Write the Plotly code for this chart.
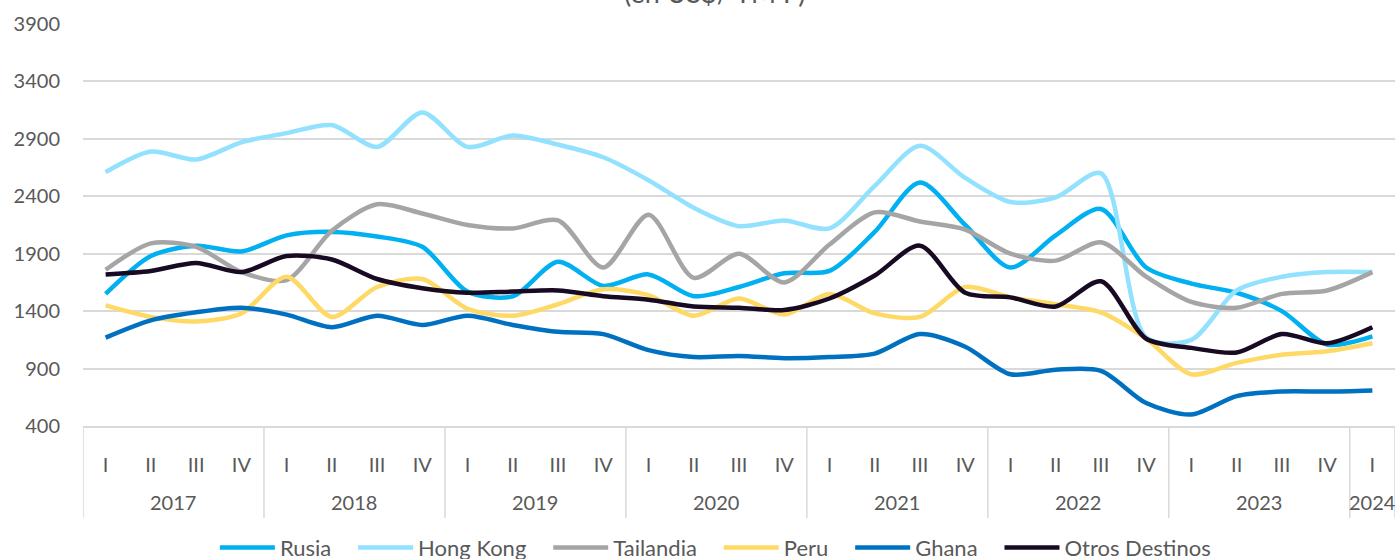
import plotly.graph_objects as go

years = ["2017"] * 4 + ["2018"] * 4 + ["2019"] * 4 + ["2020"] * 4 + ["2021"] * 4 + ["2022"] * 4 + ["2023"] * 4 + ["2024"]
quarters = ["I", "II", "III", "IV"] * 7 + ["I"]

rusia = [1550, 1880, 1970, 1920, 2060, 2090, 2050, 1960, 1570, 1530, 1830, 1620, 1720, 1530,
         1610, 1730, 1750, 2090, 2520, 2150, 1780, 2060, 2290, 1780, 1640, 1560, 1400, 1110, 1180]
hong_kong = [2610, 2790, 2720, 2870, 2950, 3020, 2830, 3130, 2830, 2930, 2850, 2740, 2540, 2300,
             2140, 2190, 2120, 2490, 2840, 2560, 2350, 2390, 2600, 1170, 1150, 1580, 1700, 1740, 1740]
tailandia = [1760, 1990, 1960, 1740, 1670, 2100, 2330, 2250, 2150, 2120, 2190, 1780, 2240, 1690,
             1900, 1650, 1980, 2260, 2180, 2110, 1900, 1840, 2000, 1700, 1480, 1430, 1550, 1580, 1740]
peru = [1450, 1350, 1310, 1380, 1700, 1350, 1610, 1680, 1420, 1360, 1460, 1590, 1540, 1360,
        1510, 1370, 1550, 1380, 1350, 1610, 1520, 1460, 1390, 1160, 850, 950, 1020, 1050, 1120]
ghana = [1170, 1320, 1390, 1430, 1370, 1260, 1360, 1280, 1360, 1280, 1220, 1200, 1060, 1000,
         1010, 990, 1000, 1030, 1200, 1090, 850, 890, 880, 600, 500, 660, 700, 700, 710]
otros = [1720, 1750, 1820, 1740, 1880, 1850, 1680, 1600, 1560, 1570, 1580, 1530, 1500, 1440,
         1430, 1410, 1510, 1710, 1970, 1560, 1520, 1440, 1660, 1160, 1080, 1040, 1200, 1120, 1260]

series = [
    ("Rusia", rusia, "#00B0F0"),
    ("Hong Kong", hong_kong, "#91E1FF"),
    ("Tailandia", tailandia, "#A5A5A5"),
    ("Peru", peru, "#FFD966"),
    ("Ghana", ghana, "#0070C0"),
    ("Otros Destinos", otros, "#170A22"),
]

FONT = "Lato"
GREY = "#595959"
LINE_GREY = "#D9D9D9"
PAD = "\u00a0" * 3  # extra spacing after each legend entry

idx = list(range(len(quarters)))

fig = go.Figure()
for k, (name, vals, color) in enumerate(series):
    label = name + (PAD if k < len(series) - 1 else "")
    fig.add_trace(go.Scatter(
        x=idx, y=vals, name=label, mode="lines",
        line=dict(color=color, width=4.5, shape="spline", smoothing=0.8),
    ))

# year groups -> labels and dividers
groups = []
for i, yr in enumerate(years):
    if not groups or groups[-1][0] != yr:
        groups.append([yr, i, i])
    else:
        groups[-1][2] = i

annotations = [dict(text="(en US$/ TM F)", xref="paper", yref="paper", x=0.482, y=1.032,
                    xanchor="center", yanchor="bottom", showarrow=False,
                    font=dict(family=FONT, size=27, color=GREY))]
shapes = []
for yr, a, b in groups:
    annotations.append(dict(text=yr, xref="x", yref="paper", x=(a + b) / 2, y=-0.189,
                            xanchor="center", yanchor="middle", showarrow=False,
                            font=dict(family=FONT, size=20, color=GREY)))
    shapes.append(dict(type="line", xref="x", yref="paper", x0=a - 0.5, x1=a - 0.5,
                       y0=0, y1=-0.229, line=dict(color=LINE_GREY, width=1.5)))
shapes.append(dict(type="line", xref="x", yref="paper", x0=groups[-1][2] + 0.5,
                   x1=groups[-1][2] + 0.5, y0=0, y1=-0.229, line=dict(color=LINE_GREY, width=1.5)))

fig.update_layout(
    width=1396, height=559,
    margin=dict(l=83, r=1, t=24, b=133, autoexpand=False),
    paper_bgcolor="white", plot_bgcolor="white",
    font=dict(family=FONT, size=20, color=GREY),
    showlegend=True,
    legend=dict(orientation="h", x=0.482, xanchor="center", y=-0.303, yanchor="middle",
                font=dict(family=FONT, size=22, color=GREY), itemwidth=55,
                bgcolor="rgba(0,0,0,0)"),
    annotations=annotations,
    shapes=shapes,
)
fig.update_yaxes(range=[400, 3900], tickvals=[400, 900, 1400, 1900, 2400, 2900, 3400, 3900],
                 showgrid=True, gridcolor=LINE_GREY, gridwidth=1.5, zeroline=False,
                 showline=False, ticklabelstandoff=22, tickfont=dict(size=20, color=GREY))
fig.update_xaxes(range=[-0.5, len(quarters) - 0.5], tickvals=idx, ticktext=quarters,
                 showgrid=False, showline=True, linecolor=LINE_GREY, linewidth=1.5,
                 zeroline=False, ticks="", ticklabelstandoff=20,
                 tickfont=dict(size=20, color=GREY))

fig.write_html("out.html", config={"displayModeBar": False},
               post_script="document.body.style.margin='0';document.body.style.overflow='hidden';")
